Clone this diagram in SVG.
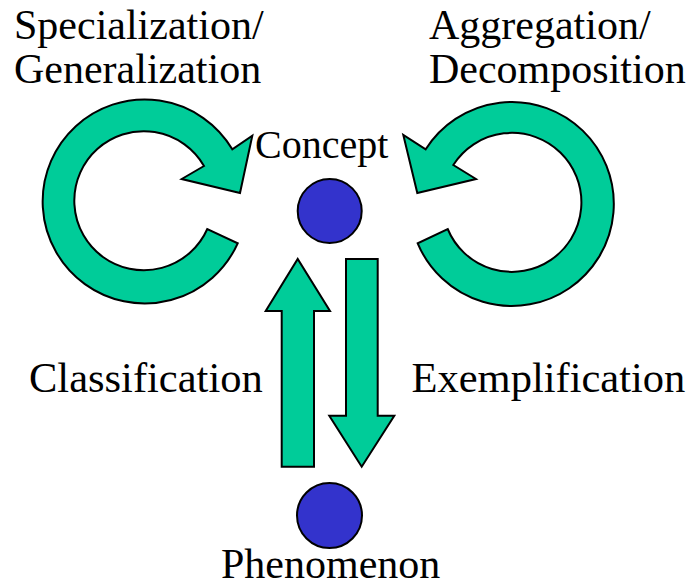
<svg xmlns="http://www.w3.org/2000/svg" width="696" height="588" viewBox="0 0 696 588">
<style>
.t{font-size:42px;fill:#000}
.arr{fill:#00CC99;stroke:#000;stroke-width:2;stroke-linejoin:miter}
.node{fill:#3333CC;stroke:#000;stroke-width:2}
</style>
<rect width="696" height="588" fill="#fff"/>
<g font-family="'Liberation Serif', 'Times New Roman', Times, 'DejaVu Serif', serif">
<g id="connectors">
  <path id="spec-gen" class="arr" d="M 237.7 243.3 A 102 102 0 1 1 232.3 149.3 L 252.3 135.7 L 240 193 L 181.7 179 L 204 166 A 69.5 69.5 0 1 0 207.3 229 Z"/>
  <path id="agg-dec" class="arr" d="M 417.7 243.3 A 102 102 0 1 0 425.7 149.3 L 403.3 135 L 417.3 193 L 476 179 L 453.3 165 A 69.5 69.5 0 1 1 447.7 229 Z"/>
  <path id="classification" class="arr" d="M 281.7 466.7 L 281.7 311 L 265.7 311 L 297.7 259 L 330 311 L 314 311 L 314 466.7 Z"/>
  <path id="exemplification" class="arr" d="M 346 259 L 377.7 259 L 377.7 415.7 L 394.3 415.7 L 361.7 466.7 L 329.3 415.7 L 346 415.7 Z"/>
  <text class="t" x="14" y="39">Specialization/</text>
  <text class="t" x="14" y="83">Generalization</text>
  <text class="t" x="429" y="39">Aggregation/</text>
  <text class="t" x="429" y="83">Decomposition</text>
  <text class="t" x="29" y="392" style="font-size:42.5px">Classification</text>
  <text class="t" x="411.5" y="392" style="font-size:42.5px">Exemplification</text>
</g>
<g id="concept">
  <circle class="node" cx="329.7" cy="211" r="32"/>
  <text class="t" x="255" y="158" style="font-size:40px">Concept</text>
</g>
<g id="phenomenon">
  <circle class="node" cx="329.5" cy="515.5" r="32.5"/>
  <text class="t" x="221" y="578">Phenomenon</text>
</g>
</g>
</svg>
